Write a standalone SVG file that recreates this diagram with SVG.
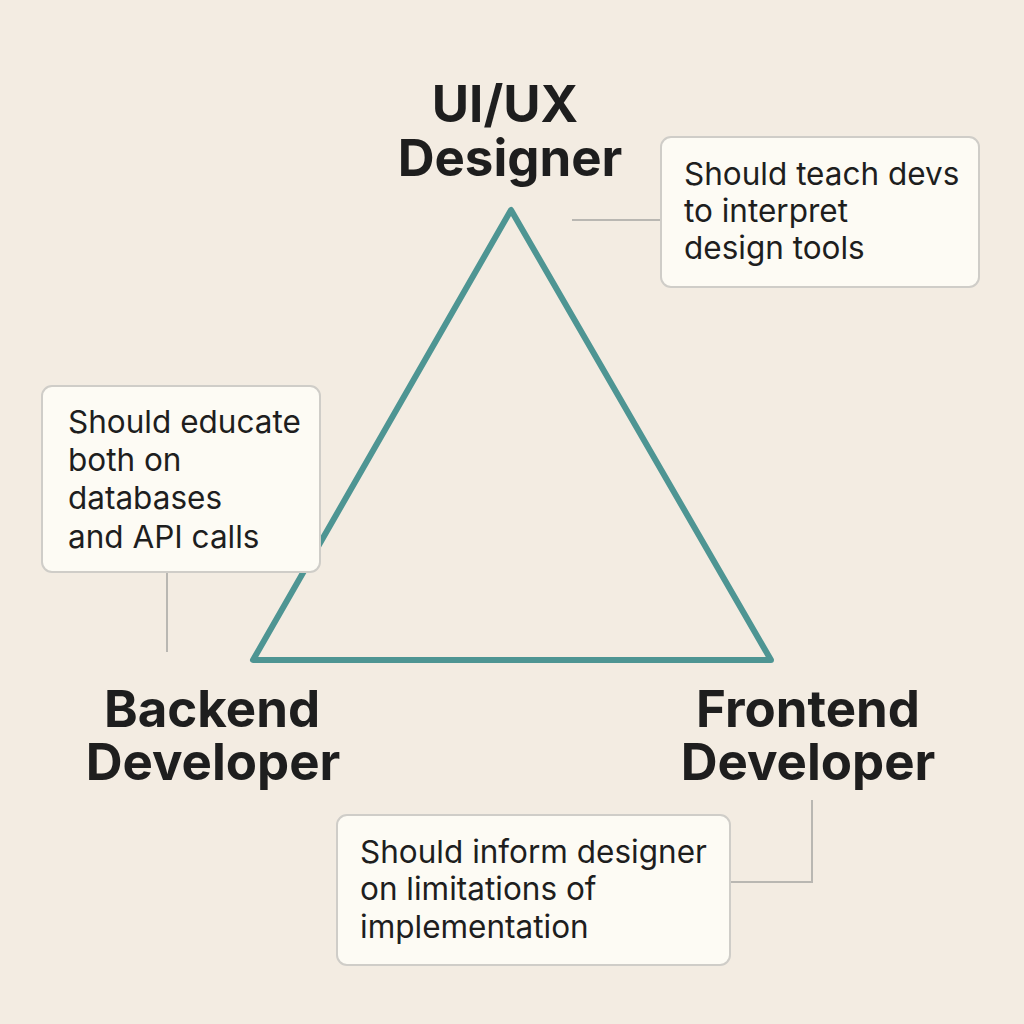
<svg xmlns="http://www.w3.org/2000/svg" width="1024" height="1024" viewBox="0 0 1024 1024">
<style>
.t{font-family:Inter,"Liberation Sans",sans-serif;font-weight:700;font-size:51px;fill:#1e1e1e;text-anchor:middle}
.n{font-family:Inter,"Liberation Sans",sans-serif;font-size:31.5px;fill:#1e1e1e}
.b{fill:#fdfbf4;stroke:#cfcdc8;stroke-width:2}
.c{stroke:#b9b7b2;stroke-width:2;fill:none}
</style>
<rect width="1024" height="1024" fill="#f3ece2"/>
<g id="connectors">
<polygon points="511,210 253,660 771,660" fill="none" stroke="#4e9593" stroke-width="6" stroke-linejoin="round"/>
<line class="c" x1="572" y1="220" x2="661" y2="220"/>
<line class="c" x1="167" y1="572" x2="167" y2="652"/>
<polyline class="c" points="730,882 812,882 812,800"/>
</g>
<g id="designer"><text class="t" x="505" y="122">UI/UX</text><text class="t" x="510" y="176">Designer</text></g>
<g id="backend"><text class="t" x="212" y="727">Backend</text><text class="t" x="213" y="780">Developer</text></g>
<g id="frontend"><text class="t" x="808" y="727">Frontend</text><text class="t" x="808" y="780">Developer</text></g>
<g id="note-designer"><rect class="b" x="661" y="137" width="318" height="150" rx="10"/>
<text class="n" x="684" y="185">Should teach devs</text><text class="n" x="684" y="222">to interpret</text><text class="n" x="684" y="259">design tools</text></g>
<g id="note-backend"><rect class="b" x="42" y="386" width="278" height="186" rx="10"/>
<text class="n" x="68" y="433">Should educate</text><text class="n" x="68" y="471">both on</text><text class="n" x="68" y="509">databases</text><text class="n" x="68" y="548">and API calls</text></g>
<g id="note-frontend"><rect class="b" x="337" y="815" width="393" height="150" rx="10"/>
<text class="n" x="360" y="863">Should inform designer</text><text class="n" x="360" y="900">on limitations of</text><text class="n" x="360" y="938">implementation</text></g>
</svg>
